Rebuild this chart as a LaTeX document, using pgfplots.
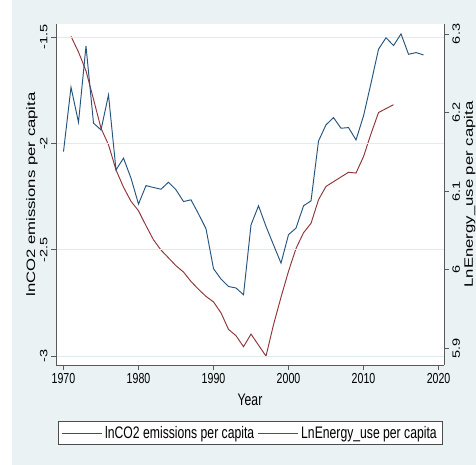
\documentclass[border=0pt]{standalone}
\usepackage{pgfplots}
\pgfplotsset{compat=1.18}
\usepackage{pgfplotstable}
\usepackage{fontspec}
\setmainfont{Liberation Sans}
% condensed face for horizontal text, widened face for rotated text
\newfontfamily\hfam[FakeStretch=0.73]{Liberation Sans}
\newfontfamily\vfam[FakeStretch=1.37]{Liberation Sans}
\newcommand\hlab{\hfam\fontsize{16.7bp}{20bp}\selectfont}
\newcommand\htick{\hfam\fontsize{14.5bp}{17bp}\selectfont}
\newcommand\vlab{\vfam\fontsize{12.2bp}{14bp}\selectfont}
\newcommand\vtick{\vfam\fontsize{10.6bp}{12bp}\selectfont}

\definecolor{bgcol}{HTML}{EAF2F3}
\definecolor{gridcol}{HTML}{E1EAEC}
\definecolor{co2blue}{HTML}{25557F}
\definecolor{enred}{HTML}{90353B}

\pgfplotstableread{
year co
1970 -2.038
1971 -1.735
1972 -1.900
1973 -1.541
1974 -1.904
1975 -1.936
1976 -1.771
1977 -2.124
1978 -2.069
1979 -2.163
1980 -2.285
1981 -2.198
1982 -2.207
1983 -2.215
1984 -2.182
1985 -2.218
1986 -2.273
1987 -2.265
1988 -2.331
1989 -2.401
1990 -2.589
1991 -2.638
1992 -2.673
1993 -2.680
1994 -2.712
1995 -2.383
1996 -2.293
1997 -2.390
1998 -2.477
1999 -2.563
2000 -2.429
2001 -2.398
2002 -2.293
2003 -2.270
2004 -1.988
2005 -1.912
2006 -1.878
2007 -1.928
2008 -1.925
2009 -1.983
2010 -1.870
2011 -1.716
2012 -1.556
2013 -1.502
2014 -1.539
2015 -1.484
2016 -1.580
2017 -1.572
2018 -1.583
}\emisdata

\pgfplotstableread{
year energy
1971 6.297
1972 6.277
1973 6.253
1974 6.217
1975 6.180
1976 6.159
1977 6.127
1978 6.105
1979 6.087
1980 6.075
1981 6.056
1982 6.038
1983 6.025
1984 6.015
1985 6.005
1986 5.997
1987 5.985
1988 5.975
1989 5.966
1990 5.959
1991 5.945
1992 5.924
1993 5.916
1994 5.902
1995 5.918
1996 5.904
1997 5.890
1998 5.930
1999 5.965
2000 5.998
2001 6.027
2002 6.047
2003 6.059
2004 6.089
2005 6.106
2006 6.112
2007 6.118
2008 6.124
2009 6.123
2010 6.144
2011 6.173
2012 6.200
2013 6.205
2014 6.210
}\energydata

\begin{document}
\begin{tikzpicture}
\path[use as bounding box] (0bp,0bp) rectangle (476bp,465bp);
\fill[white] (0bp,0bp) rectangle (476bp,465bp);
\fill[bgcol] (12bp,0bp) rectangle (476bp,465bp);
% plot region
\fill[white] (56bp,100bp) rectangle (444bp,441bp);

\pgfplotsset{
  common/.style={
    at={(56bp,100bp)}, anchor=south west,
    width=388bp, height=341bp, scale only axis,
    xmin=1969, xmax=2020.73,
    axis line style={draw=black!65, line width=0.6pt, -},
    tick style={draw=black!65, line width=0.6pt},
    tick align=outside, major tick length=5bp,
  },
  emisline/.style={color=co2blue, line width=0.95pt, no markers},
  energyline/.style={color=enred, line width=0.95pt, no markers},
}

% right-hand axis: energy use
\begin{axis}[common,
  ymin=5.8787, ymax=6.3127,
  axis y line*=right, axis x line=none,
  ytick={5.9,6,6.1,6.2,6.3},
  yticklabels={5.9,6,6.1,6.2,6.3},
  yticklabel style={font=\vtick, rotate=90, anchor=north},
]
\addplot[energyline] table[x=year, y=energy] {\energydata};
\end{axis}

% left-hand axis: emissions, carries the legend
\begin{axis}[common,
  ymin=-3.0424, ymax=-1.4374,
  axis x line*=bottom, axis y line*=left,
  xtick={1970,1980,1990,2000,2010,2020},
  xticklabels={1970,1980,1990,2000,2010,2020},
  ytick={-3,-2.5,-2,-1.5},
  yticklabels={-3,-2.5,-2,-1.5},
  ymajorgrids, grid style={draw=gridcol, line width=0.9pt},
  xticklabel style={font=\htick},
  yticklabel style={font=\vtick, rotate=90, anchor=south},
  legend columns=2,
  legend image code/.code={\draw[#1] (0bp,0bp) -- (40bp,0bp);},
  legend style={at={(0.5013,-0.1994)}, anchor=center,
    draw=black!70, fill=white, line width=0.6pt,
    font=\hlab, inner xsep=3bp, inner ysep=4bp,
    nodes={inner xsep=3bp, inner ysep=1bp}},
]
\addplot[emisline] table[x=year, y=co] {\emisdata};
\addlegendentry{lnCO2 emissions per capita}
\addlegendimage{energyline}
\addlegendentry{LnEnergy\_use per capita}
\end{axis}

\node[rotate=90, font=\vlab] at (32bp,270.5bp) {lnCO2 emissions per capita};
\node[rotate=90, font=\vlab, anchor=south, inner sep=0pt] at (475.5bp,270.5bp) {LnEnergy\_use per capita};
\node[font=\hlab] at (250bp,65bp) {Year};
\end{tikzpicture}
\end{document}
